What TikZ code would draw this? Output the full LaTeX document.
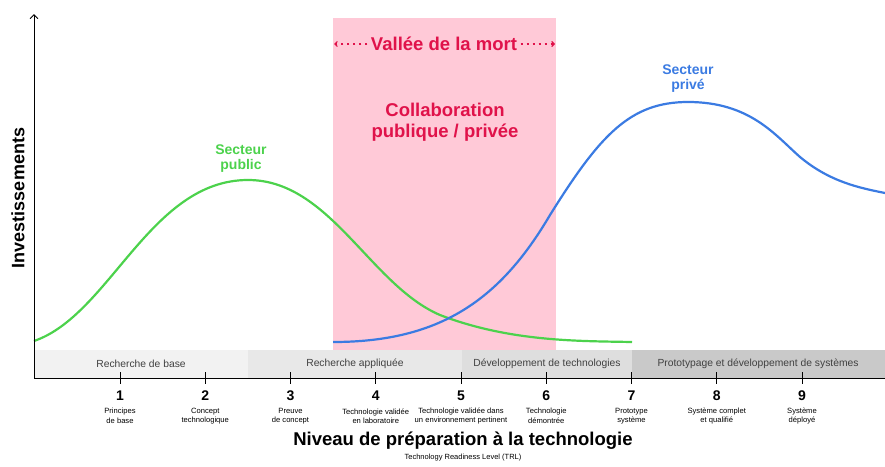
\documentclass[tikz,border=0pt]{standalone}
\usepackage{fontspec}
\setmainfont{Liberation Sans}
\usetikzlibrary{arrows.meta,positioning}
\definecolor{vert}{HTML}{4CD24C}
\definecolor{bleu}{HTML}{3B7BE2}
\definecolor{rose}{HTML}{FFC9D7}
\definecolor{rouge}{HTML}{E0124A}
\tikzset{
  band/.style={font=\fontsize{10.3}{11}\selectfont, text=black!75},
  num/.style={font=\bfseries\fontsize{14}{14}\selectfont},
  descr/.style={font=\fontsize{7.6}{9.5}\selectfont, align=center},
  secteur/.style={font=\bfseries\fontsize{14}{15}\selectfont, align=center},
  pointille/.style={rouge, line width=1.2pt, dash pattern=on 2.5pt off 3.5pt, -{Straight Barb[length=2.5pt,width=5pt]}},
}
\begin{document}
\begin{tikzpicture}[x=1pt, y=-1pt]
\useasboundingbox (0,0) rectangle (885,466);
% vallee de la mort
\fill[rose] (333,18) rectangle (556,350);
\node (vallee) [text=rouge, font=\bfseries\fontsize{18.5}{20}\selectfont] at (444,44) {Vall\'ee de la mort};
\coordinate (vg) at (334,44);
\coordinate (vd) at (555,44);
\draw[pointille] (vallee.west) -- (vg);
\draw[pointille] (vallee.east) -- (vd);
\node (collab) [text=rouge, align=center, font=\bfseries\fontsize{18.5}{21}\selectfont] at (445,122) {Collaboration\\publique / priv\'ee};
% bandes
\fill[black!5] (34,350) rectangle (248,378);
\fill[black!9] (248,350) rectangle (462,378);
\fill[black!13] (462,350) rectangle (632,378);
\fill[black!21] (632,350) rectangle (885,378);
\node[band] (base) at (141,364) {Recherche de base};
\node[band] (appl) at (355,364) {Recherche appliqu\'ee};
\node[band] (dev) at (547,364) {D\'eveloppement de technologies};
\node[band] (proto) at (758,364) {Prototypage et d\'eveloppement de syst\`emes};
% courbes
\draw[vert, line width=2.2pt] (34,341) .. controls (110,315) and (150,180) .. (248,180)
  .. controls (330,180) and (370,285) .. (440,315) .. controls (510,342) and (580,341) .. (632,342);
\draw[bleu, line width=2.2pt] (333,342) .. controls (440,342) and (500,300) .. (550,215)
  .. controls (600,135) and (630,102) .. (688,102) .. controls (750,102) and (775,135) .. (800,157)
  .. controls (830,182) and (860,188) .. (885,193);
\node[secteur, text=vert] (public) at (241,159) {Secteur\\public};
\node[secteur, text=bleu] (prive) at (688,79) {Secteur\\priv\'e};
% axes
\coordinate (o) at (34,378);
\coordinate (top) at (34,14);
\coordinate (fin) at (885,378);
\draw[line width=0.9pt, -{Straight Barb[length=4pt,width=8pt]}] (o) -- (top);
\draw[line width=0.9pt] (o) -- (fin);
\node[rotate=90, font=\bfseries\fontsize{18}{19}\selectfont] (invest) at (18,198) {Investissements};
% niveaux TRL
\foreach \n/\a/\b in {1/Principes/de base, 2/Concept/technologique, 3/Preuve/de concept,
  4/Technologie valid\'ee/en laboratoire, 5/Technologie valid\'ee dans/un environnement pertinent,
  6/Technologie/d\'emontr\'ee, 7/Prototype/syst\`eme, 8/Syst\`eme complet/et qualifi\'e, 9/Syst\`eme/d\'eploy\'e} {
  \draw[line width=0.9pt] (120+85.25*\n-85.25,372) -- (120+85.25*\n-85.25,384);
  \node[num] (n\n) at (120+85.25*\n-85.25,396) {\n};
  \node[descr] (d\n) at (120+85.25*\n-85.25,416) {\a\\\b};
}
\node (titre) [font=\bfseries\fontsize{18.5}{20}\selectfont] at (463,441) {Niveau de pr\'eparation \`a la technologie};
\node (trl) [below=-3pt of titre, font=\fontsize{7.5}{8}\selectfont] {Technology Readiness Level (TRL)};
\end{tikzpicture}
\end{document}
